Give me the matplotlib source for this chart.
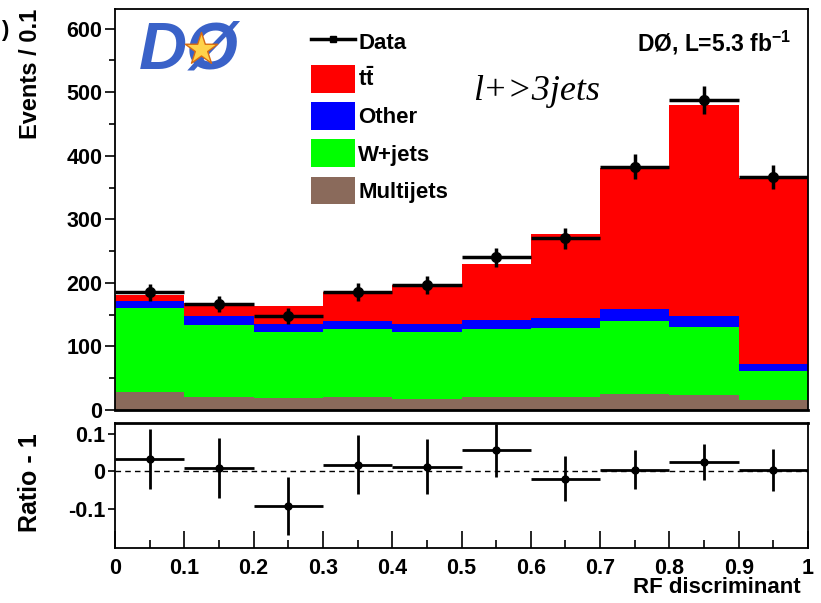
import numpy as np
import matplotlib
matplotlib.use("Agg")
import matplotlib.pyplot as plt
from matplotlib.lines import Line2D
from matplotlib.patches import Patch

plt.rcParams['font.family'] = ['Liberation Sans', 'DejaVu Sans']
plt.rcParams['font.weight'] = 'bold'
plt.rcParams['mathtext.fontset'] = 'custom'
plt.rcParams['mathtext.bf'] = 'Liberation Sans:bold'
plt.rcParams['mathtext.rm'] = 'Liberation Sans:bold'

# bin edges of the RF discriminant
bin_edges = [0.0, 0.1, 0.2, 0.3, 0.4, 0.5, 0.6, 0.7, 0.8, 0.9, 1.0]
bin_centers = [0.05, 0.15, 0.25, 0.35, 0.45, 0.55, 0.65, 0.75, 0.85, 0.95]

# stacked predictions (events / 0.1), bottom to top
multijets = [29, 20, 19, 20, 17, 21, 21, 25, 24, 16]
wjets = [132, 114, 104, 107, 105, 107, 108, 115, 106, 45]
other = [11, 14, 12, 13, 13, 14, 16, 19, 18, 11]
ttbar = [9, 20, 29, 46, 62, 88, 132, 222, 332, 293]

# observed data
data = [185, 167, 148, 186, 197, 240, 270, 383, 488, 366]
data_err = [14, 13, 12, 14, 14, 15, 16, 20, 22, 19]

# data / prediction - 1
ratio = [0.032, 0.009, -0.093, 0.017, 0.012, 0.055, -0.021, 0.004, 0.024, 0.003]
ratio_err = [0.079, 0.080, 0.078, 0.078, 0.074, 0.070, 0.060, 0.052, 0.047, 0.055]

x_ticks = [0, 0.1, 0.2, 0.3, 0.4, 0.5, 0.6, 0.7, 0.8, 0.9, 1]
x_ticklabels = ['0', '0.1', '0.2', '0.3', '0.4', '0.5', '0.6', '0.7', '0.8', '0.9', '1']

c_tt = '#ff0000'
c_other = '#0000ff'
c_w = '#00ff00'
c_multi = '#8a6a5b'

fig = plt.figure(figsize=(8.21, 6.03), dpi=100)
ax = fig.add_axes([0.1401, 0.3201, 0.8441, 0.665])
axr = fig.add_axes([0.1401, 0.0912, 0.8441, 0.2073])

# top panel: stacked histogram
left = bin_edges[:-1]
bottom = np.zeros(len(left))
for vals, col in [(multijets, c_multi), (wjets, c_w), (other, c_other), (ttbar, c_tt)]:
    ax.bar(left, vals, width=0.1, bottom=bottom, align='edge', color=col,
           edgecolor='none', linewidth=0)
    bottom = bottom + np.array(vals)

ax.errorbar(bin_centers, data, xerr=0.05, yerr=data_err, fmt='o', color='black',
            ms=7, elinewidth=2.5, capsize=0, zorder=5)

ax.set_xlim(0, 1)
ax.set_ylim(0, 631)
ax.set_xticks(x_ticks)
ax.set_xticklabels([])
ax.tick_params(axis='x', length=0)
ax.set_yticks([0, 100, 200, 300, 400, 500, 600])
ax.set_yticks(np.arange(50, 631, 100), minor=True)
ax.tick_params(axis='y', which='major', direction='out', length=7, width=1.2,
               labelsize=15.5, pad=2)
ax.tick_params(axis='y', which='minor', direction='out', length=4, width=1.2)
for s in ax.spines.values():
    s.set_linewidth(1.3)
ax.spines['bottom'].set_linewidth(2)

fig.text(0.037, 0.985, 'Events / 0.1', rotation=90, ha='center', va='top',
         fontsize=17, fontweight='bold')
fig.text(0.001, 0.95, ')', ha='left', va='center', fontsize=16, fontweight='bold')

# logo stand-in
ax.text(0.035, 0.895, 'DØ', transform=ax.transAxes, fontsize=48, color='#3a62c8',
        fontweight='bold', fontstyle='italic', ha='left', va='center', zorder=6)
ax.scatter([0.124], [0.9], transform=ax.transAxes, marker='*', s=600,
           color='#ffd24a', edgecolors='#d86a10', linewidths=1, zorder=7)

handles = [Line2D([0], [0], color='black', lw=2.5, marker='s', ms=5),
           Patch(facecolor=c_tt), Patch(facecolor=c_other),
           Patch(facecolor=c_w), Patch(facecolor=c_multi)]
labels = ['Data', r'$\mathbf{t\bar{t}}$', 'Other', 'W+jets', 'Multijets']
leg = ax.legend(handles, labels, loc='upper left', bbox_to_anchor=(0.27, 0.975),
                frameon=False, fontsize=16, handlelength=2.0, handleheight=1.55,
                handletextpad=0.12, labelspacing=0.42, borderaxespad=0)
for t in leg.get_texts():
    t.set_fontweight('bold')

ax.text(0.975, 0.915, r'DØ, L=5.3 fb$^{\mathbf{-1}}$', transform=ax.transAxes,
        ha='right', va='center', fontsize=16.5, fontweight='bold')
ax.text(0.516, 0.795, 'l+>3jets', transform=ax.transAxes, ha='left', va='center',
        fontsize=26, fontstyle='italic', fontweight='normal',
        family='Liberation Serif')

# bottom panel: ratio
axr.axhline(0, color='black', lw=1, ls='--', dashes=(4, 3))
axr.errorbar(bin_centers, ratio, xerr=0.05, yerr=ratio_err, fmt='o', color='black',
             ms=5, elinewidth=2, capsize=0, zorder=5)
axr.set_xlim(0, 1)
axr.set_ylim(-0.205, 0.128)
axr.set_yticks([-0.1, 0, 0.1])
axr.set_yticklabels(['-0.1', '0', '0.1'])
axr.set_xticks(x_ticks)
axr.set_xticklabels(x_ticklabels)
axr.set_xticks(bin_centers, minor=True)
axr.tick_params(axis='x', which='major', direction='in', length=12, width=1.2,
                labelsize=15.5, pad=7)
axr.tick_params(axis='x', which='minor', direction='in', length=6, width=1.2)
axr.tick_params(axis='y', which='major', direction='out', length=5, width=1.2,
                labelsize=15.5, pad=2)
for s in axr.spines.values():
    s.set_linewidth(1.3)
axr.spines['top'].set_linewidth(2)

fig.text(0.037, 0.2, 'Ratio - 1', rotation=90, ha='center', va='center',
         fontsize=18, fontweight='bold')
fig.text(0.975, 0.008, 'RF discriminant', ha='right', va='bottom', fontsize=16,
         fontweight='bold')

fig.savefig('out.png', dpi=100)
